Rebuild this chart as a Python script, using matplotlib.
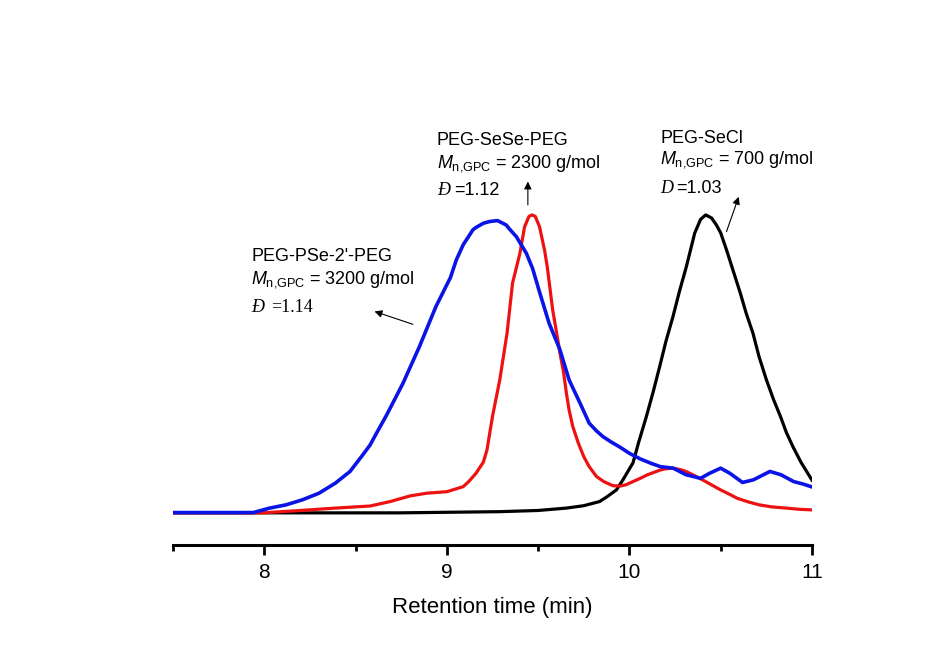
import numpy as np
import matplotlib.pyplot as plt

# GPC traces (retention time in min, normalized RI signal)
black_t = [7.50, 8.00, 8.74, 9.29, 9.50, 9.655, 9.75, 9.837, 9.88, 9.929, 9.965, 10.02,
           10.05, 10.093, 10.13, 10.166, 10.20, 10.239, 10.275, 10.312, 10.358, 10.39,
           10.418, 10.45, 10.477, 10.50, 10.532, 10.57, 10.608, 10.64, 10.677, 10.71,
           10.751, 10.79, 10.828, 10.86, 10.896, 10.94, 10.988, 11.0]
black_y = [0.0, 0.0, 0.0, 0.004, 0.008, 0.016, 0.024, 0.038, 0.055, 0.077, 0.111, 0.168,
           0.235, 0.323, 0.405, 0.491, 0.575, 0.659, 0.745, 0.826, 0.939, 0.985,
           1.0, 0.99, 0.966, 0.94, 0.883, 0.81, 0.737, 0.67, 0.603, 0.525,
           0.446, 0.38, 0.323, 0.27, 0.222, 0.17, 0.122, 0.11]

red_t = [7.50, 7.99, 8.20, 8.39, 8.58, 8.69, 8.80, 8.89, 9.00, 9.09, 9.12, 9.16, 9.20,
         9.22, 9.25, 9.29, 9.33, 9.36, 9.40, 9.426, 9.45, 9.467, 9.485, 9.508, 9.536,
         9.55, 9.58, 9.60, 9.62, 9.64, 9.655, 9.67, 9.69, 9.72, 9.75, 9.78, 9.82, 9.86,
         9.91, 9.95, 9.98, 10.06, 10.10, 10.17, 10.20, 10.24, 10.28, 10.31, 10.35,
         10.40, 10.45, 10.50, 10.55, 10.59, 10.65, 10.71, 10.78, 10.86, 10.93, 11.0]
red_y = [0.0, 0.0, 0.008, 0.016, 0.023, 0.038, 0.057, 0.066, 0.071, 0.088, 0.105, 0.133, 0.17,
         0.211, 0.323, 0.446, 0.603, 0.771, 0.87, 0.96, 0.995, 1.0, 0.995, 0.96, 0.88,
         0.827, 0.681, 0.61, 0.536, 0.47, 0.402, 0.345, 0.290, 0.235, 0.189, 0.155, 0.122, 0.105,
         0.091, 0.09, 0.094, 0.116, 0.128, 0.144, 0.148, 0.150, 0.145, 0.139, 0.127,
         0.111, 0.094, 0.077, 0.062, 0.049, 0.037, 0.027, 0.02, 0.016, 0.012, 0.010]

blue_t = [7.50, 7.94, 8.03, 8.12, 8.21, 8.30, 8.39, 8.47, 8.54, 8.58, 8.61, 8.64, 8.67,
          8.76, 8.85, 8.94, 9.02, 9.052, 9.09, 9.143, 9.16, 9.20, 9.235, 9.278, 9.326,
          9.34, 9.381, 9.436, 9.47, 9.51, 9.56, 9.62, 9.67, 9.73, 9.78, 9.82, 9.855, 9.90,
          9.95, 10.00, 10.06, 10.12, 10.17, 10.24, 10.31, 10.39, 10.44, 10.50, 10.55,
          10.62, 10.68, 10.77, 10.83, 10.90, 10.95, 11.0]
blue_y = [0.001, 0.001, 0.016, 0.027, 0.044, 0.066, 0.100, 0.139, 0.195, 0.228, 0.262, 0.295,
          0.328, 0.435, 0.558, 0.692, 0.79, 0.849, 0.90, 0.950, 0.958, 0.972, 0.978, 0.981,
          0.966, 0.955, 0.927, 0.871, 0.82, 0.737, 0.637, 0.547, 0.446, 0.368, 0.301, 0.275,
          0.256, 0.238, 0.220, 0.20, 0.181, 0.166, 0.155, 0.150, 0.128, 0.116, 0.133,
          0.150, 0.133, 0.102, 0.111, 0.139, 0.128, 0.105, 0.097, 0.087]

xticks = [8, 9, 10, 11]
xlabel = 'Retention time (min)'

plt.rcParams['font.family'] = ['Liberation Sans', 'DejaVu Sans']
plt.rcParams['mathtext.fontset'] = 'custom'
plt.rcParams['mathtext.rm'] = 'Liberation Sans'
plt.rcParams['mathtext.it'] = 'Liberation Sans:italic'

fig = plt.figure(figsize=(9.26, 6.46), dpi=100)
ax = fig.add_axes([0.1868, 0.1563, 0.690, 0.7817])

ax.plot(black_t, black_y, color='black', lw=2.3)
ax.plot(red_t, red_y, color='#ee1111', lw=2.3)
ax.plot(blue_t, blue_y, color='#0a14e6', lw=2.6)

ax.set_xlim(7.5, 11)
ax.set_ylim(-0.108, 1.587)
for s in ['left', 'right', 'top']:
    ax.spines[s].set_visible(False)
ax.spines['bottom'].set_linewidth(2.2)
ax.set_yticks([])
ax.set_xticks(xticks)
ax.set_xticks(np.arange(7.5, 11.01, 0.5), minor=True)
ax.tick_params(axis='x', which='major', length=7, width=2, labelsize=15, pad=6)
ax.tick_params(axis='x', which='minor', length=4, width=2)
ax.set_xlabel(xlabel, fontsize=16, labelpad=11)

fs = 13
# annotation blocks: (left x, line y's, name, Mn, D value, serif value?, D glyph, offset pt)
notes = [
    (7.929, [0.861, 0.782, 0.690], "PEG-PSe-2'-PEG", '3200', '=1.14', True, 'Đ', 14.0),
    (8.946, [1.249, 1.174, 1.082], 'PEG-SeSe-PEG', '2300', '=1.12', False, 'Đ', 12.7),
    (10.170, [1.257, 1.185, 1.090], 'PEG-SeCl', '700', '=1.03', False, 'D', 11.5),
]
for x0, ys, name, mn, dval, serif, dch, off in notes:
    ax.text(x0, ys[0], name, fontsize=fs, ha='left', va='center')
    ax.text(x0, ys[1], r'$M_{\rm n{,}GPC}$' + ' = %s g/mol' % mn, fontsize=fs,
            ha='left', va='center')
    ax.text(x0, ys[2], dch, fontsize=fs, ha='left', va='center',
            family='Liberation Serif', style='italic')
    ax.annotate(dval, xy=(x0, ys[2]), xytext=(off, 0), textcoords='offset points',
                fontsize=fs, ha='left', va='center',
                family='Liberation Serif' if serif else 'Liberation Sans')

arrows = [((8.604, 0.676), (8.814, 0.633)),
          ((9.444, 1.112), (9.444, 1.034)),
          ((10.599, 1.061), (10.532, 0.944))]
for head, tail in arrows:
    ax.annotate('', xy=head, xytext=tail,
                arrowprops=dict(arrowstyle='-|>', color='black', lw=0.8,
                                mutation_scale=11, shrinkA=0, shrinkB=0))

fig.savefig('out.png', dpi=100, facecolor='white')
